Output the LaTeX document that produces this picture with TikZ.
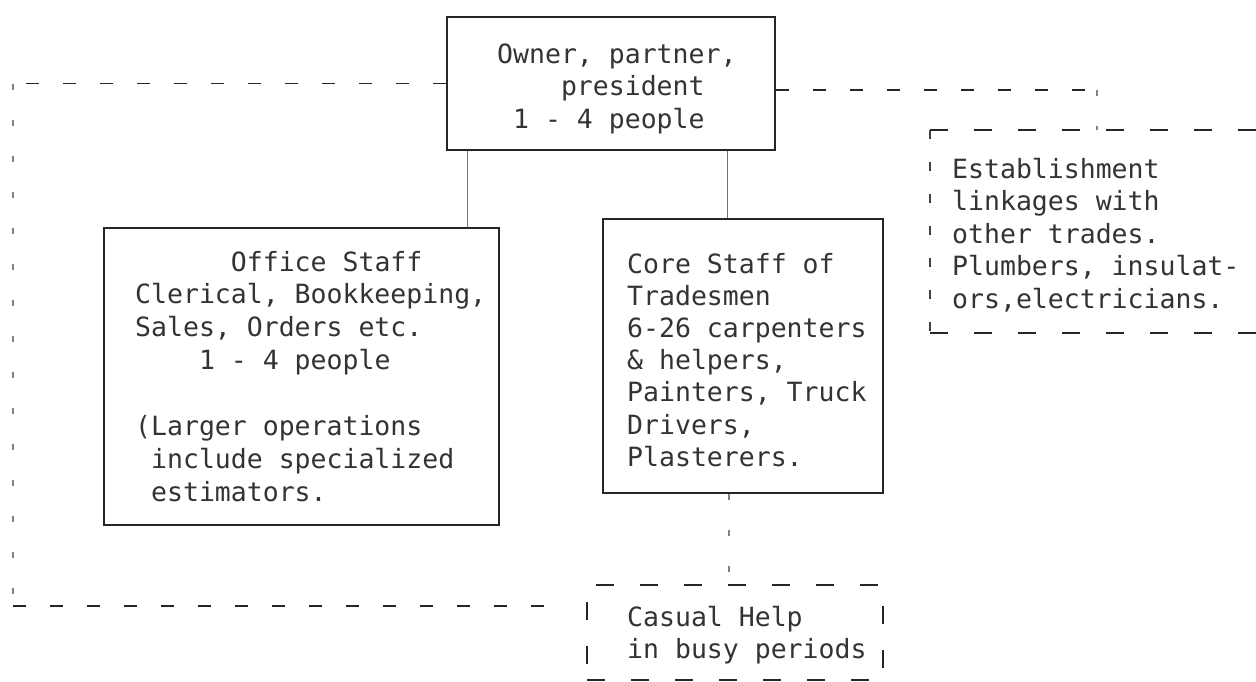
\documentclass[tikz,border=0pt]{standalone}
\usepackage{fontspec}
\newfontfamily\twfont{DejaVu Sans Mono}
\newcommand\boxlines[2]{\vtop{\baselineskip=#1\lineskiplimit=-100pt\lineskip=0pt #2}}
\newcommand\tline[1]{\hbox{#1}}
\newcommand\ind[1]{\hphantom{#1}}
\begin{document}
\begin{tikzpicture}[x=1pt,y=-1pt,
  box/.style={draw=black!85, line width=1.5pt, rectangle, inner sep=0pt},
  dbox/.style={draw=black!85, line width=1.5pt, dash pattern=on 18pt off 26pt, rectangle, inner sep=0pt},
  txt/.style={anchor=base west, inner sep=0pt, text=black!80, font=\twfont\fontsize{26.5}{32.5}\selectfont},
  link/.style={draw=black!55, line width=0.9pt},
  hdash/.style={draw=black!85, line width=1.6pt, dash pattern=on 13pt off 24pt},
  vdash/.style={draw=black!50, line width=1.1pt, dash pattern=on 6pt off 30pt},
  sdash/.style={draw=black!75, line width=1.5pt, dash pattern=on 9pt off 23pt},
]
\useasboundingbox (0,0) rectangle (1256,681);
% boxes
\node[box, minimum width=328pt, minimum height=133pt] (owner) at (611,83.5) {};
\node[box, minimum width=395pt, minimum height=297pt] (office) at (301.5,376.5) {};
\node[box, minimum width=280pt, minimum height=274pt] (core) at (743,356) {};
\node[dbox, minimum width=296pt, minimum height=95pt] (casual) at (735,632.5) {};
\node[rectangle, inner sep=0pt, minimum width=326pt, minimum height=203pt] (estab) at (1093,231.5) {};
\draw[dbox] (estab.north west) -- (estab.north east);
\draw[dbox] (estab.south west) -- (estab.south east);
\draw[sdash] (estab.north west) -- (estab.south west);
% texts
\node[txt] (ownert) at (497,63) {\boxlines{32.5pt}{\tline{Owner, partner,}\tline{\ind{0000}president}\tline{\ind{0}1 - 4 people}}};
\node[txt] (officet) at (135,271) {\boxlines{32.9pt}{\tline{\ind{000000}Office Staff}\tline{Clerical, Bookkeeping,}\tline{Sales, Orders etc.}\tline{\ind{0000}1 - 4 people}\tline{}\tline{(Larger operations}\tline{\ind{0}include specialized}\tline{\ind{0}estimators.}}};
\node[txt] (coret) at (627,273) {\boxlines{32.2pt}{\tline{Core Staff of}\tline{Tradesmen}\tline{6-26 carpenters}\tline{\& helpers,}\tline{Painters, Truck}\tline{Drivers,}\tline{Plasterers.}}};
\node[txt] (estabt) at (952,178) {\boxlines{32.5pt}{\tline{Establishment}\tline{linkages with}\tline{other trades.}\tline{Plumbers, insulat-}\tline{ors,electricians.}}};
\node[txt] (casualt) at (627,626) {\boxlines{32pt}{\tline{Casual Help}\tline{in busy periods}}};
% helper coordinates
\coordinate (c1) at (467,0);
\coordinate (c2) at (727,0);
\coordinate (c3) at (729,0);
\coordinate (lt) at (13,83.5);
\coordinate (lb) at (13,606);
\coordinate (rj) at (1097,90);
% solid links
\draw[link] (owner.south -| c1) -- (office.north -| c1);
\draw[link] (owner.south -| c2) -- (core.north -| c2);
% dashed links
\draw[vdash] (core.south -| c3) -- (casual.north -| c3);
\draw[hdash] (owner.west) -- (lt);
\draw[vdash] (lt) -- (lb);
\draw[hdash, shorten >=27pt] (lb) -- (casual.west |- lb);
\draw[hdash] (owner.east |- rj) -- (rj);
\draw[vdash] (rj) -- (estab.north -| rj);
\end{tikzpicture}
\end{document}
